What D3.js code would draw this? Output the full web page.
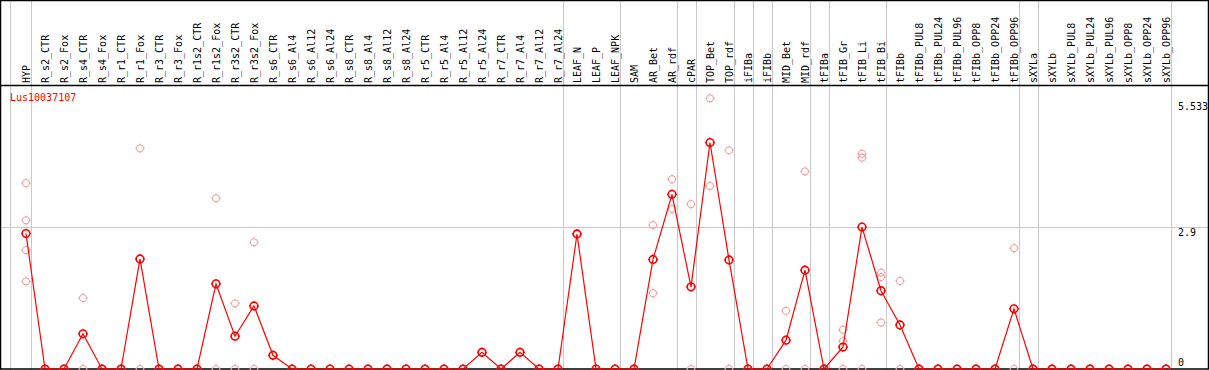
<!DOCTYPE html>
<html lang="en">
<head>
<meta charset="UTF-8">
<script src="https://cdnjs.cloudflare.com/ajax/libs/d3/7.9.0/d3.min.js"></script>
<title>Lus10037107</title>
<style>
    body { margin: 0; padding: 0; background: #fff; }
    svg { display: block; font-family: "DejaVu Sans Mono", monospace; font-size: 10px; }
</style>
</head>
<body>
<div id="chart"></div>
<script>
const geneName = "Lus10037107";

const categories = ["HYP", "R_s2_CTR", "R_s2_Fox", "R_s4_CTR", "R_s4_Fox", "R_r1_CTR", "R_r1_Fox",
    "R_r3_CTR", "R_r3_Fox", "R_r1s2_CTR", "R_r1s2_Fox", "R_r3s2_CTR", "R_r3s2_Fox", "R_s6_CTR",
    "R_s6_Al4", "R_s6_Al12", "R_s6_Al24", "R_s8_CTR", "R_s8_Al4", "R_s8_Al12", "R_s8_Al24",
    "R_r5_CTR", "R_r5_Al4", "R_r5_Al12", "R_r5_Al24", "R_r7_CTR", "R_r7_Al4", "R_r7_Al12", "R_r7_Al24",
    "LEAF_N", "LEAF_P", "LEAF_NPK", "SAM", "AR_Bet", "AR_rdf", "cPAR", "TOP_Bet", "TOP_rdf",
    "iFIBa", "iFIBb", "MID_Bet", "MID_rdf", "tFIBa", "tFIB_Gr", "tFIB_Li", "tFIB_Bi", "tFIBb",
    "tFIBb_PUL8", "tFIBb_PUL24", "tFIBb_PUL96", "tFIBb_OPP8", "tFIBb_OPP24", "tFIBb_OPP96",
    "sXYLa", "sXYLb", "sXYLb_PUL8", "sXYLb_PUL24", "sXYLb_PUL96", "sXYLb_OPP8", "sXYLb_OPP24", "sXYLb_OPP96"];

const means = [2.77, 0, 0, 0.72, 0, 0, 2.25,
    0, 0, 0, 1.74, 0.67, 1.29, 0.28,
    0, 0, 0, 0, 0, 0, 0,
    0, 0, 0, 0.34, 0, 0.34, 0, 0,
    2.76, 0, 0, 0, 2.24, 3.57, 1.68, 4.63, 2.23,
    0, 0, 0.59, 2.02, 0, 0.45, 2.90, 1.60, 0.90,
    0, 0, 0, 0, 0, 1.23,
    0, 0, 0, 0, 0, 0, 0, 0];

const replicates = [[3.80, 3.04, 2.43, 1.79], [0, 0], [0, 0], [1.45, 0], [0, 0], [0, 0], [4.51, 0],
    [0, 0], [0, 0], [0, 0], [3.49, 0], [1.34, 0], [2.59, 0], [0.28],
    [0], [0], [0], [0], [0], [0], [0],
    [0], [0], [0], [0.34], [0], [0.34], [0], [0],
    [2.76], [0], [0], [0, 0], [2.94, 1.55], [3.88, 3.27], [3.37, 0], [5.533, 3.74], [4.47, 0],
    [0, 0], [0, 0], [1.19, 0], [4.04, 0], [0, 0], [0.80, 0.57, 0], [4.40, 4.32, 0], [1.97, 1.88, 0.95], [1.80, 0],
    [0, 0], [0, 0], [0, 0], [0, 0], [0, 0], [2.47, 0],
    [0, 0], [0, 0], [0, 0], [0, 0], [0, 0], [0, 0], [0, 0], [0, 0]];

// a separator is drawn after each of these
const groupEnds = ["HYP", "R_r7_Al24", "LEAF_NPK", "AR_rdf", "cPAR", "TOP_rdf", "iFIBa", "iFIBb",
    "MID_rdf", "tFIBa", "tFIB_Bi", "tFIBb_OPP96", "sXYLa", "sXYLb_OPP96"];

const yTicks = [5.533, 2.9, 0];

const W = 1209, H = 370, headerY = 85;
const red = "#ff0000", pink = "#f09a9a", grid = "#c8c8c8";

const x = d3.scalePoint().domain(categories).range([26, 1166]);
const y = d3.scaleLinear().domain([0, 5.533]).range([369, 98.3]);

const svg = d3.select("#chart").append("svg").attr("width", W).attr("height", H);

// vertical separators
svg.append("line")
    .attr("x1", 10.5).attr("x2", 10.5).attr("y1", 0).attr("y2", H)
    .attr("stroke", grid);
svg.selectAll(".sep").data(groupEnds).enter().append("line")
    .attr("class", "sep")
    .attr("x1", d => Math.round(x(d) + 4.5) + 0.5)
    .attr("x2", d => Math.round(x(d) + 4.5) + 0.5)
    .attr("y1", 0)
    .attr("y2", H)
    .attr("stroke", grid);

// horizontal mid line
svg.append("line")
    .attr("x1", 0).attr("x2", W)
    .attr("y1", Math.round(y(2.9)) + 0.5).attr("y2", Math.round(y(2.9)) + 0.5)
    .attr("stroke", grid);

// frame
svg.append("rect").attr("x", 0.5).attr("y", 0.5).attr("width", W - 1).attr("height", H - 1.5)
    .attr("fill", "none").attr("stroke", "#000").attr("stroke-width", 1.5);
svg.append("line").attr("x1", 0).attr("x2", W).attr("y1", headerY + 0.5).attr("y2", headerY + 0.5)
    .attr("stroke", "#000").attr("stroke-width", 1.5);

// column labels
svg.selectAll(".cat").data(categories).enter().append("text")
    .attr("class", "cat")
    .attr("transform", d => `translate(${x(d) + 3.5},83) rotate(-90)`)
    .attr("fill", "#000")
    .text(d => d);

// gene name
svg.append("text").attr("x", 10).attr("y", 101).attr("fill", red).text(geneName);

// y labels
svg.selectAll(".ylab").data(yTicks).enter().append("text")
    .attr("class", "ylab")
    .attr("x", 1178)
    .attr("y", (d, i) => Math.min(y(d) + (i === 0 ? 12 : 8.5), 366))
    .attr("fill", "#000")
    .text(d => d);

function marker(g, cx, cy, r, color, sw) {
    g.append("circle").attr("cx", cx).attr("cy", cy).attr("r", r)
        .attr("fill", "none").attr("stroke", color).attr("stroke-width", sw);
    const t = r + 1.2;
    g.append("path")
        .attr("d", `M${cx},${cy - t}V${cy - r}M${cx},${cy + t}V${cy + r}M${cx - t},${cy}H${cx - r}M${cx + t},${cy}H${cx + r}`)
        .attr("stroke", color).attr("stroke-width", 1);
}

// replicates
const repG = svg.append("g");
categories.forEach((c, i) => {
    replicates[i].forEach(v => marker(repG, x(c), y(v), 3.6, pink, 1));
});

// mean line
svg.append("path")
    .datum(categories.map((c, i) => [x(c), y(means[i])]))
    .attr("d", d3.line())
    .attr("fill", "none").attr("stroke", red).attr("stroke-width", 1.2);

const meanG = svg.append("g");
categories.forEach((c, i) => marker(meanG, x(c), y(means[i]), 3.8, red, 1.6));
</script>
</body>
</html>
